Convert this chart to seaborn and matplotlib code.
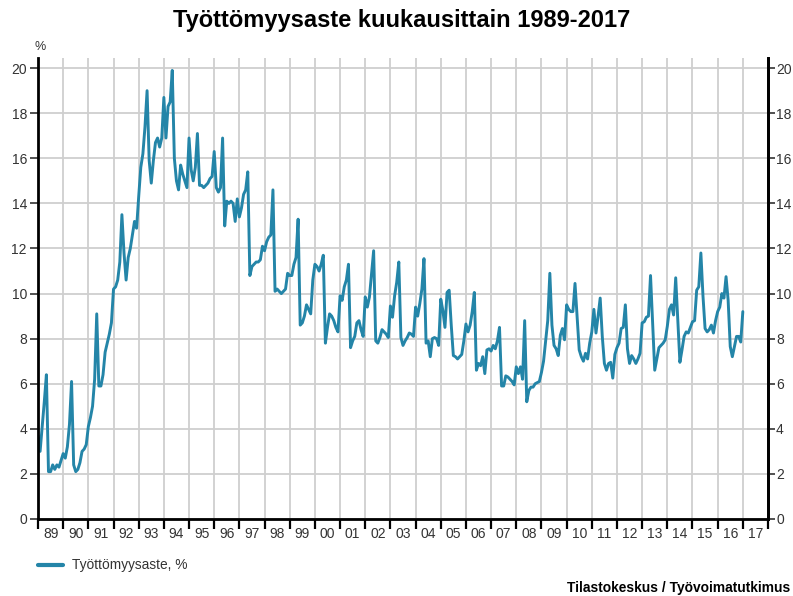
"""Työttömyysaste kuukausittain 1989-2017 -- monthly line chart, saved to out.png."""
import matplotlib
matplotlib.use("Agg")

import matplotlib.pyplot as plt
import numpy as np
import pandas as pd
import seaborn as sns

# monthly unemployment rate (%), Jan 1989 .. Jan 2017
rate_1989_1999 = [
    3.7, 3.0, 4.1, 5.2, 6.4, 2.1, 2.1, 2.4, 2.2, 2.4, 2.3, 2.6,        # 1989
    2.9, 2.7, 3.2, 4.2, 6.1, 2.4, 2.1, 2.2, 2.5, 3.0, 3.1, 3.3,        # 1990
    4.1, 4.5, 5.0, 6.2, 9.1, 5.9, 5.9, 6.4, 7.4, 7.8, 8.2, 8.7,        # 1991
    10.2, 10.3, 10.6, 11.4, 13.5, 11.8, 10.6, 11.6, 12.0, 12.6, 13.2, 12.9,  # 1992
    14.3, 15.6, 16.2, 17.4, 19.0, 15.9, 14.9, 15.9, 16.7, 16.9, 16.5, 16.9,  # 1993
    18.7, 16.9, 18.3, 18.5, 19.9, 16.0, 15.0, 14.6, 15.7, 15.3, 15.0, 14.7,  # 1994
    16.9, 15.5, 15.0, 15.6, 17.1, 14.8, 14.8, 14.7, 14.8, 14.9, 15.1, 15.2,  # 1995
    16.3, 14.7, 14.5, 14.7, 16.9, 13.0, 14.1, 14.0, 14.1, 14.0, 13.2, 14.2,  # 1996
    13.4, 13.8, 14.4, 14.6, 15.4, 10.8, 11.2, 11.3, 11.4, 11.4, 11.5, 12.1,  # 1997
    11.9, 12.3, 12.5, 12.6, 14.6, 10.1, 10.2, 10.1, 10.0, 10.1, 10.2, 10.9,  # 1998
    10.8, 10.8, 11.3, 11.6, 13.3, 8.6, 8.7, 9.0, 9.5, 9.3, 9.1, 10.6,  # 1999
]
rate_2000_2009 = [
    11.3, 11.2, 11.0, 11.3, 11.7, 7.8, 8.5, 9.1, 9.0, 8.8, 8.5, 8.3,   # 2000
    9.9, 9.7, 10.3, 10.6, 11.3, 7.6, 7.9, 8.1, 8.7, 8.8, 8.4, 8.1,     # 2001
    9.85, 9.4, 9.85, 10.9, 11.9, 7.9, 7.8, 8.05, 8.4, 8.3, 8.2, 8.05,  # 2002
    9.45, 8.95, 9.9, 10.5, 11.4, 8.05, 7.7, 7.9, 8.05, 8.25, 8.2, 8.1,  # 2003
    9.4, 9.0, 9.55, 10.2, 11.55, 7.8, 7.9, 7.2, 8.0, 8.05, 8.0, 7.7,   # 2004
    9.75, 9.25, 8.5, 10.05, 10.15, 8.6, 7.25, 7.2, 7.1, 7.2, 7.3, 7.9,  # 2005
    8.65, 8.3, 8.6, 9.2, 10.05, 6.6, 6.9, 6.8, 7.2, 6.45, 7.5, 7.55,   # 2006
    7.45, 7.7, 7.55, 7.9, 8.5, 5.9, 5.9, 6.35, 6.3, 6.2, 6.1, 5.95,    # 2007
    6.75, 6.45, 6.75, 6.2, 8.8, 5.2, 5.7, 5.85, 5.85, 6.0, 6.05, 6.1,  # 2008
    6.5, 7.0, 7.9, 8.8, 10.9, 8.6, 7.7, 7.55, 7.25, 8.15, 8.45, 7.95,  # 2009
]
rate_2010_2017 = [
    9.5, 9.3, 9.2, 9.2, 10.45, 9.0, 7.5, 7.2, 7.0, 7.35, 7.1, 7.8,     # 2010
    8.3, 9.3, 8.25, 9.0, 9.8, 8.1, 6.9, 6.6, 6.9, 6.95, 6.25, 7.3,     # 2011
    7.6, 7.8, 8.45, 8.5, 9.5, 7.55, 6.9, 7.25, 7.1, 6.9, 7.1, 7.35,    # 2012
    8.7, 8.75, 8.95, 9.0, 10.8, 8.7, 6.6, 7.1, 7.6, 7.7, 7.8, 7.95,    # 2013
    8.55, 9.3, 9.5, 9.05, 10.7, 8.8, 6.95, 7.5, 8.1, 8.3, 8.25, 8.5,   # 2014
    8.75, 8.8, 10.15, 10.3, 11.8, 9.9, 8.45, 8.3, 8.4, 8.6, 8.25, 8.8,  # 2015
    9.2, 9.4, 10.0, 9.8, 10.75, 9.7, 7.65, 7.2, 7.65, 8.1, 8.1, 7.85,  # 2016
    9.2,                                                                # 2017
]
year_labels = [f"{y % 100:02d}" for y in range(1989, 2018)]
y_ticks = list(range(0, 21, 2))

TITLE = "Työttömyysaste kuukausittain 1989-2017"
SERIES = "Työttömyysaste, %"
SOURCE = "Tilastokeskus / Työvoimatutkimus"
LINE = "#2485a8"
GRID = "#cfcfcf"
YMAX = 20.45

rate = rate_1989_1999 + rate_2000_2009 + rate_2010_2017
df = pd.DataFrame({"t": 1989 + np.arange(len(rate)) / 12, "rate": rate})

sns.set_style("white")
plt.rcParams["font.family"] = ["Liberation Sans", "DejaVu Sans"]

fig = plt.figure(figsize=(7.93, 5.96), dpi=100)
ax = fig.add_axes([38 / 793, 1 - 519 / 596, 730 / 793, (519 - 58) / 596])

sns.lineplot(data=df, x="t", y="rate", ax=ax, color=LINE, linewidth=2.1,
             label=SERIES, legend=False)

ax.set_xlim(1989, 2018)
ax.set_ylim(0, YMAX)
ax.set_xlabel("")
ax.set_ylabel("")

# year boundaries as major ticks (grid), labels on minor ticks in the middle
ax.set_xticks(range(1989, 2019))
ax.set_xticklabels([])
ax.set_xticks([y + 0.5 for y in range(1989, 2018)], minor=True)
ax.set_xticklabels(year_labels, minor=True)
ax.tick_params(axis="x", which="major", direction="out", length=7, width=1.6,
               color="black", bottom=True)
ax.tick_params(axis="x", which="minor", length=0, pad=6, labelsize=10,
               labelcolor="#333333")

ax.set_yticks(y_ticks)
ax.tick_params(axis="y", direction="out", length=6, width=1.2, color="#333333",
               left=True, right=False, labelsize=10, labelcolor="#333333",
               pad=2)

ax.grid(True, which="major", color=GRID, linewidth=1.3)
ax.set_axisbelow(True)
for side in ["left", "right", "bottom"]:
    ax.spines[side].set_color("black")
    ax.spines[side].set_linewidth(2)
ax.spines["top"].set_visible(False)

# right-hand scale, packed tight so it stays inside the picture
ax2 = ax.twinx()
ax2.set_ylim(0, YMAX)
ax2.set_yticks(y_ticks)
ax2.tick_params(axis="y", direction="out", length=5, width=1.2,
                color="#333333", labelsize=10, labelcolor="#333333", pad=0.8)
for side in ["left", "top", "bottom"]:
    ax2.spines[side].set_visible(False)
ax2.spines["right"].set_color("black")
ax2.spines["right"].set_linewidth(2)

fig.text(0.506, 1 - 21 / 596, TITLE, ha="center", va="center", fontsize=17,
         fontweight="bold", color="black")
fig.text(40 / 793, 1 - 47 / 596, "%", ha="center", va="center", fontsize=9,
         color="#333333")

# legend and source line below the plot
fig.add_artist(plt.Line2D([38 / 793, 63 / 793], [1 - 565 / 596] * 2,
                          color=LINE, linewidth=3, transform=fig.transFigure))
fig.text(72 / 793, 1 - 565 / 596, SERIES, ha="left", va="center",
         fontsize=9.9, color="#333333")
fig.text(790 / 793, 1 - 588 / 596, SOURCE, ha="right", va="center",
         fontsize=9.9, fontweight="bold", color="black")

fig.savefig("out.png", dpi=100)
plt.close(fig)
